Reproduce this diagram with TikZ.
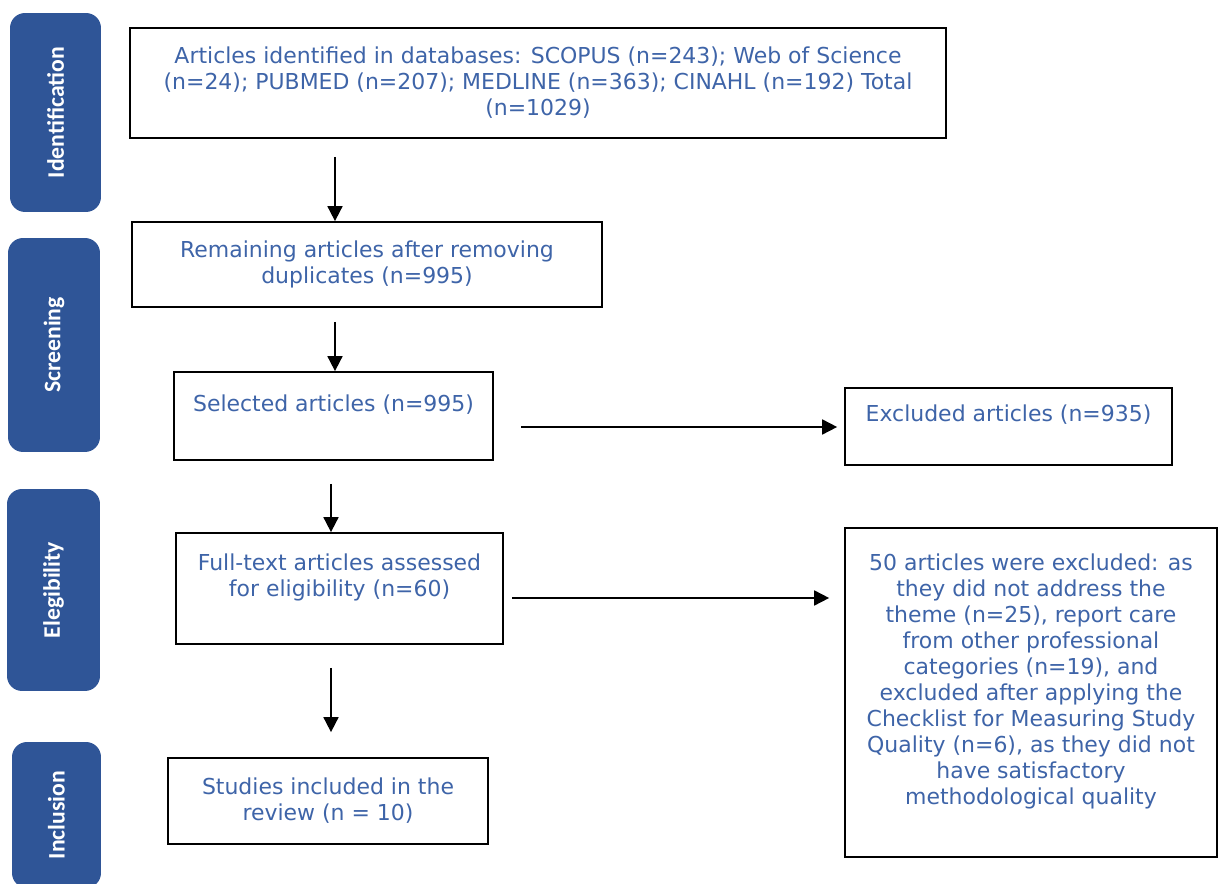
\documentclass[tikz,border=0pt]{standalone}
\usepackage{fontspec}
\setmainfont{DejaVu Sans}
\newfontfamily\sidefont{Carlito}
\usepackage{tikz}
\usetikzlibrary{positioning, arrows.meta}
\definecolor{phaseblue}{HTML}{2F5597}
\definecolor{textblue}{HTML}{3E64A8}

\begin{document}
\begin{tikzpicture}[
        % 1 unit = 1 pixel of the 1218x884 layout
        x=0.02cm, y=-0.02cm,
        every node/.style={font=\fontsize{12.5}{14.8}\selectfont},
        phase/.style={fill=phaseblue, rounded corners=0.3cm, rotate=90,
                      text=white, inner sep=0pt,
                      font=\sidefont\bfseries\fontsize{13.5}{16}\selectfont},
        box/.style={draw, line width=1pt, text=textblue, align=center,
                    inner sep=0pt},
        arrow/.style={-{Triangle[length=0.3cm, width=0.3cm]}, line width=1pt}
    ]
    \clip (0,0) rectangle (1218,884);
    \useasboundingbox (0,0) rectangle (1218,884);

    % --- Phase bars ---
    \node[phase, minimum width=3.98cm, minimum height=1.82cm] (ident) at (55.5,112.5) {Identification};
    \node[phase, minimum width=4.28cm, minimum height=1.84cm] (screen) at (54,345) {Screening};
    \node[phase, minimum width=4.04cm, minimum height=1.86cm] (elig) at (53.5,590) {Elegibility};
    \node[phase, minimum width=2.92cm, minimum height=1.78cm] (incl) at (56.5,815) {Inclusion};

    % --- Boxes ---
    \node[box, minimum width=16.32cm, minimum height=2.2cm] (found) at (538,83)
        {Articles identified in databases: SCOPUS (n=243); Web of Science\\
         (n=24); PUBMED (n=207); MEDLINE (n=363); CINAHL (n=192) Total\\
         (n=1029)};
    \node[box, minimum width=9.4cm, minimum height=1.7cm] (dedup) at (367,264.5)
        {Remaining articles after removing\\ duplicates (n=995)};
    \node[box, minimum width=6.38cm, minimum height=1.76cm] (select) at (333.5,416)
        {Selected articles (n=995)\\ \mbox{}};
    \node[box, minimum width=6.54cm, minimum height=1.54cm] (excl) at (1008.5,426.5)
        {Excluded articles (n=935)\\ \mbox{}};
    \node[box, minimum width=6.54cm, minimum height=2.22cm] (full) at (339.5,588.5)
        {Full-text articles assessed\\ for eligibility (n=60)\\ \mbox{}};
    \node[box, minimum width=7.44cm, minimum height=6.58cm] (reasons) at (1031,692.5)
        {50 articles were excluded: as\\ they did not address the\\
         theme (n=25), report care\\ from other professional\\
         categories (n=19), and\\ excluded after applying the\\
         Checklist for Measuring Study\\ Quality (n=6), as they did not\\
         have satisfactory\\ methodological quality\\ \mbox{}};
    \node[box, minimum width=6.4cm, minimum height=1.72cm] (incl_box) at (328,801)
        {Studies included in the\\ review (n = 10)};

    % --- Arrow starts ---
    \coordinate (a1) at (335,157);
    \coordinate (a2) at (335,322);
    \coordinate (a3) at (521,427);
    \coordinate (a4) at (331,484);
    \coordinate (a5) at (512,598);
    \coordinate (a6) at (331,668);

    % --- Arrows ---
    \draw[arrow] (a1) -- (a1 |- dedup.north);
    \draw[arrow] (a2) -- (a2 |- select.north);
    \draw[arrow, shorten >=0.14cm] (a3) -- (a3 -| excl.west);
    \draw[arrow] (a4) -- (a4 |- full.north);
    \draw[arrow, shorten >=0.3cm] (a5) -- (a5 -| reasons.west);
    \draw[arrow, shorten >=0.5cm] (a6) -- (a6 |- incl_box.north);

\end{tikzpicture}
\end{document}
